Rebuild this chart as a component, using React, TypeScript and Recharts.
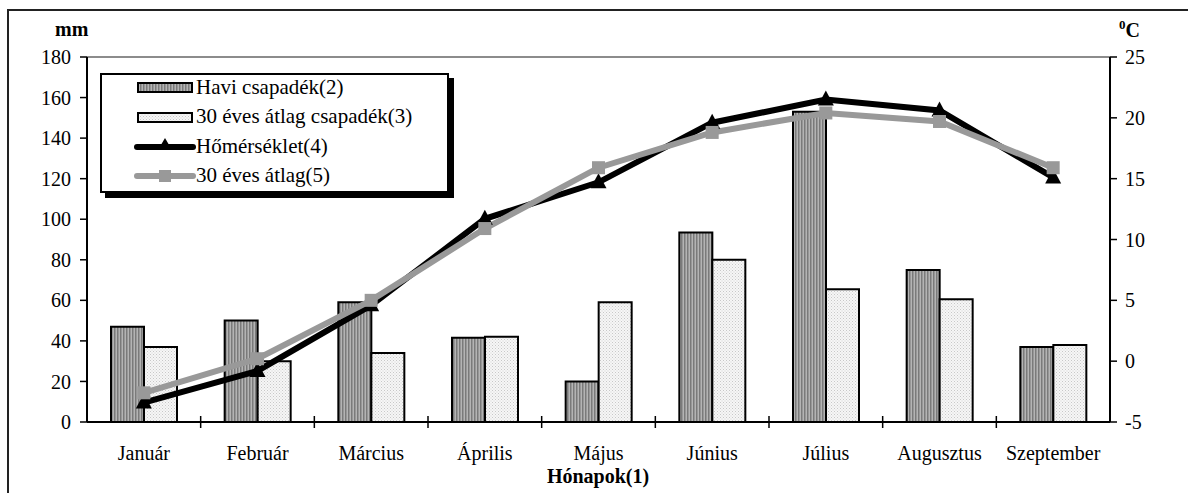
import React from 'react'
import {
  ComposedChart, Bar, Line, XAxis, YAxis, ReferenceLine,
} from 'recharts'

const honapok = ['Január', 'Február', 'Március', 'Április', 'Május', 'Június', 'Július', 'Augusztus', 'Szeptember']
const haviCsapadek = [47, 50, 59, 41.5, 20, 93.5, 153, 75, 37]
const atlagCsapadek = [37, 30, 34, 42, 59, 80, 65.5, 60.5, 38]
const homerseklet = [-3.4, -0.8, 4.6, 11.7, 14.7, 19.6, 21.5, 20.6, 15.1]
const atlagHomerseklet = [-2.6, 0.2, 5.0, 10.9, 15.9, 18.8, 20.4, 19.7, 15.9]
const mmTicks = [0, 20, 40, 60, 80, 100, 120, 140, 160, 180]
const cTicks = [-5, 0, 5, 10, 15, 20, 25]

const data = honapok.map((h, i) => ({
  honap: h,
  havi: haviCsapadek[i],
  atlag: atlagCsapadek[i],
  hom: homerseklet[i],
  atlagHom: atlagHomerseklet[i],
}))

const W = 1188
const H = 493
const LEFT = 87
const RIGHT = 78
const band = (W - LEFT - RIGHT) / honapok.length
const font = '"Liberation Serif", "Times New Roman", serif'
const grey = '#999999'

const Patterns = ({ prefix }: { prefix: string }) => (
  <defs>
    <pattern id={`${prefix}-stripe`} width="3" height="4" patternUnits="userSpaceOnUse">
      <rect width="3" height="4" fill="#b4b4b4" />
      <rect width="1.5" height="4" fill="#7a7a7a" />
    </pattern>
    <pattern id={`${prefix}-dots`} width="3" height="3" patternUnits="userSpaceOnUse">
      <rect width="3" height="3" fill="#f6f6f6" />
      <rect width="1" height="1" fill="#c8c8c8" />
      <rect x="1.5" y="1.5" width="1" height="1" fill="#d4d4d4" />
    </pattern>
  </defs>
)

// black triangle marker for the temperature series
const Triangle = (props: any) => {
  const { cx, cy } = props
  if (cx == null || cy == null) return null
  return <path d={`M${cx},${cy - 9} L${cx + 8},${cy + 6} L${cx - 8},${cy + 6} Z`} fill="#000" />
}

const Square = (props: any) => {
  const { cx, cy } = props
  if (cx == null || cy == null) return null
  return <rect x={cx - 6.5} y={cy - 6.5} width={13} height={13} fill={grey} />
}

// month label plus a small tick on the boundary between categories
const MonthTick = (props: any) => {
  const { x, y, payload, index } = props
  return (
    <g>
      <text x={x} y={y + 38} textAnchor="middle" fontFamily={font} fontSize={20} fill="#000">
        {payload.value}
      </text>
      {index < honapok.length - 1 && (
        <line x1={x + band / 2} x2={x + band / 2} y1={y - 6} y2={y + 6} stroke="#000" strokeWidth={1.5} />
      )}
    </g>
  )
}

const legendRows = [
  { label: 'Havi csapadék(2)', kind: 'stripe' },
  { label: '30 éves átlag csapadék(3)', kind: 'dots' },
  { label: 'Hőmérséklet(4)', kind: 'tri' },
  { label: '30 éves átlag(5)', kind: 'sq' },
]

function Legenda() {
  return (
    <div style={{
      position: 'absolute', left: 100, top: 73, width: 349, height: 120,
      boxSizing: 'border-box', border: '2px solid #000', background: '#fff',
      boxShadow: '5px 5px 0 #000',
    }}>
      {legendRows.map((r, i) => (
        <div key={r.label} style={{ position: 'absolute', left: 32, top: -1 + i * 29.5, height: 26, display: 'flex', alignItems: 'center' }}>
          <svg width={62} height={20} style={{ display: 'block' }}>
            <Patterns prefix={`lg${i}`} />
            {r.kind === 'stripe' && <rect x={4} y={6} width={54} height={9} fill={`url(#lg${i}-stripe)`} stroke="#000" strokeWidth={2} />}
            {r.kind === 'dots' && <rect x={4} y={6} width={54} height={9} fill={`url(#lg${i}-dots)`} stroke="#000" strokeWidth={2} />}
            {r.kind === 'tri' && (
              <g>
                <line x1={3} x2={59} y1={11} y2={11} stroke="#000" strokeWidth={6} strokeLinecap="round" />
                <path d="M31,2 L38,14 L24,14 Z" fill="#000" />
              </g>
            )}
            {r.kind === 'sq' && (
              <g>
                <line x1={3} x2={59} y1={10} y2={10} stroke={grey} strokeWidth={6} strokeLinecap="round" />
                <rect x={25} y={4} width={12} height={12} fill={grey} />
              </g>
            )}
          </svg>
          <span style={{ fontFamily: font, fontSize: 21, color: '#000', whiteSpace: 'nowrap' }}>{r.label}</span>
        </div>
      ))}
    </div>
  )
}

export default function App() {
  return (
    <div style={{ position: 'fixed', left: 0, top: 0, width: W, height: H, overflow: 'hidden', background: '#fff' }}>
      <div style={{ position: 'absolute', left: 7, top: 9, width: 1300, height: 600, border: '2px solid #222' }} />
      <ComposedChart
        width={W}
        height={H}
        data={data}
        margin={{ top: 57, right: 0, bottom: 41, left: 0 }}
        barSize={33}
        barGap={0}
        style={{ position: 'absolute', left: 0, top: 0 }}
      >
        <Patterns prefix="ch" />
        <XAxis
          dataKey="honap"
          height={30}
          tickSize={0}
          tickMargin={0}
          tickLine={false}
          axisLine={{ stroke: '#000', strokeWidth: 2 }}
          tick={<MonthTick />}
          interval={0}
        />
        <YAxis
          yAxisId="mm"
          width={LEFT}
          domain={[0, 180]}
          ticks={mmTicks}
          interval={0}
          tickSize={7}
          tickMargin={9}
          axisLine={{ stroke: '#000', strokeWidth: 2 }}
          tickLine={{ stroke: '#000', strokeWidth: 1.5 }}
          tick={{ fontFamily: font, fontSize: 20, fill: '#000' }}
        />
        <YAxis
          yAxisId="c"
          orientation="right"
          width={RIGHT}
          domain={[-5, 25]}
          ticks={cTicks}
          interval={0}
          tickSize={7}
          tickMargin={8}
          axisLine={{ stroke: '#000', strokeWidth: 2 }}
          tickLine={{ stroke: '#000', strokeWidth: 1.5 }}
          tick={{ fontFamily: font, fontSize: 20, fill: '#000' }}
        />
        <ReferenceLine yAxisId="mm" y={180} stroke="#8c8c8c" strokeWidth={2} />
        <Bar yAxisId="mm" dataKey="havi" fill="url(#ch-stripe)" stroke="#000" strokeWidth={2} isAnimationActive={false} />
        <Bar yAxisId="mm" dataKey="atlag" fill="url(#ch-dots)" stroke="#000" strokeWidth={2} isAnimationActive={false} />
        <Line yAxisId="c" type="linear" dataKey="hom" stroke="#000" strokeWidth={6} dot={<Triangle />} activeDot={false} isAnimationActive={false} />
        <Line yAxisId="c" type="linear" dataKey="atlagHom" stroke={grey} strokeWidth={6} dot={<Square />} activeDot={false} isAnimationActive={false} />
      </ComposedChart>
      <Legenda />
      <div style={{ position: 'absolute', left: 55, top: 18, fontFamily: font, fontSize: 20, fontWeight: 'bold' }}>mm</div>
      <div style={{ position: 'absolute', left: 1119, top: 17, fontFamily: font, fontSize: 20, fontWeight: 'bold' }}>
        <sup style={{ fontSize: 13 }}>0</sup>C
      </div>
      <div style={{ position: 'absolute', left: 0, width: 1196, top: 465, textAlign: 'center', fontFamily: font, fontSize: 20, fontWeight: 'bold' }}>
        Hónapok(1)
      </div>
    </div>
  )
}
